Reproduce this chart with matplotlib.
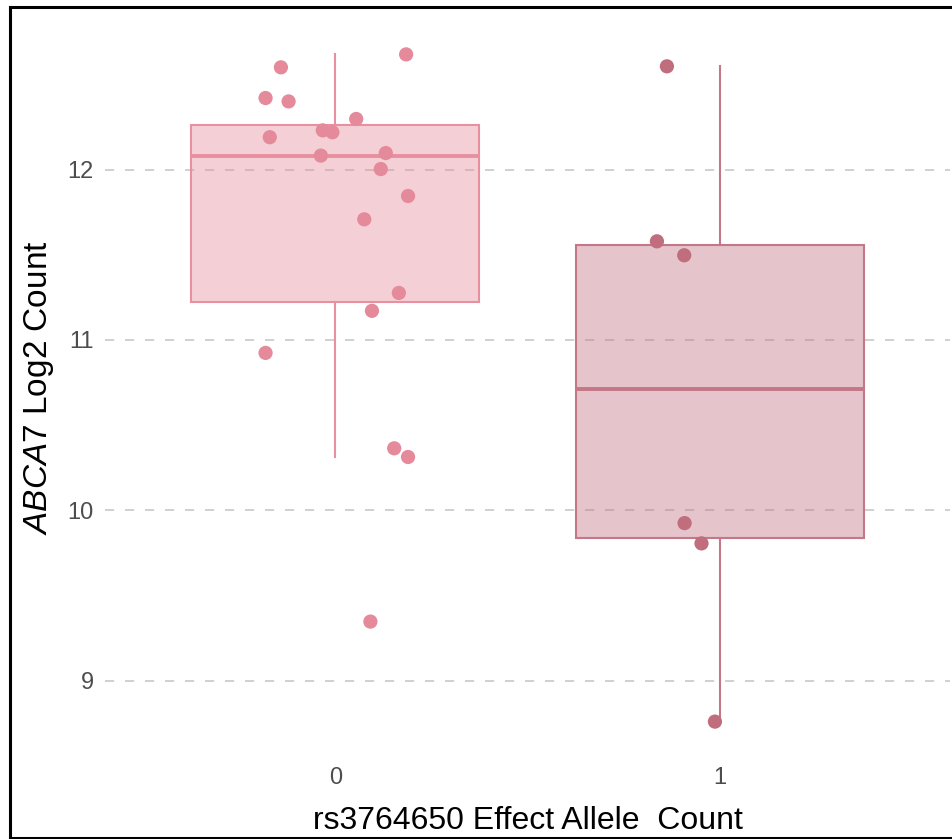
import matplotlib
matplotlib.use("Agg")
import matplotlib.pyplot as plt
from matplotlib.lines import Line2D
import numpy as np

plt.rcParams['font.family'] = ['Liberation Sans', 'DejaVu Sans']
plt.rcParams['mathtext.fontset'] = 'custom'
plt.rcParams['mathtext.it'] = 'Liberation Sans:italic'
plt.rcParams['mathtext.rm'] = 'Liberation Sans'

# Genotype groups (effect allele count)
categories = ["0", "1"]

# ABCA7 log2 counts per sample, by group
values_0 = [12.60, 12.676, 12.42, 12.40, 12.297, 12.23, 12.219, 12.19, 12.082,
            12.097, 12.003, 11.845, 11.708, 11.276, 11.171, 10.924, 10.364,
            10.313, 9.347]
values_1 = [12.606, 11.579, 11.497, 9.925, 9.806, 8.760]

# horizontal jitter of each sample within its group
jitter_0 = [-0.142, 0.184, -0.182, -0.122, 0.054, -0.033, -0.008, -0.171, -0.038,
            0.131, 0.118, 0.189, 0.075, 0.165, 0.095, -0.182, 0.153, 0.189, 0.091]
jitter_1 = [-0.137, -0.163, -0.092, -0.091, -0.047, -0.012]

yticks = [9, 10, 11, 12]

point_colors = ["#E48A9A", "#C06D7E"]
edge_colors = ["#E8909F", "#C47786"]

W, H = 952, 839
fig = plt.figure(figsize=(W / 100, H / 100), dpi=100)

# panel placement (pixels)
px_left, px_right, px_top, px_bottom = 105, 950, 21, 755
ax = fig.add_axes([px_left / W, (H - px_bottom) / H,
                   (px_right - px_left) / W, (px_bottom - px_top) / H])

groups = [values_0, values_1]
jitters = [jitter_0, jitter_1]

for i, (vals, jit) in enumerate(zip(groups, jitters)):
    bp = ax.boxplot([vals], positions=[i], widths=0.75, whis=1.5,
                    showfliers=False, patch_artist=True, showcaps=False,
                    zorder=2)
    for b in bp['boxes']:
        b.set_facecolor(matplotlib.colors.to_rgba(point_colors[i], 0.4))
        b.set_edgecolor(edge_colors[i])
        b.set_linewidth(1.5)
    for w in bp['whiskers']:
        w.set_color(edge_colors[i])
        w.set_linewidth(1.5)
    for m in bp['medians']:
        m.set_color(edge_colors[i])
        m.set_linewidth(2.8)
    ax.scatter(np.array(jit) + i, vals, s=105, color=point_colors[i],
               edgecolors='none', zorder=4)

ax.set_xlim(-0.6, 1.6)
ax.set_ylim(8.564, 12.872)
ax.set_xticks([0, 1])
ax.set_xticklabels(categories)
ax.set_yticks(yticks)
ax.set_yticklabels([str(t) for t in yticks])

for y in yticks:
    ax.axhline(y, color="#C8C8C8", lw=1.2, ls=(0, (5.5, 6.5)), zorder=1)

for s in ax.spines.values():
    s.set_visible(False)
ax.tick_params(axis='both', length=0, labelsize=17, labelcolor="#4D4D4D")
ax.tick_params(axis='y', pad=8)
ax.tick_params(axis='x', pad=9)

ax.set_xlabel("rs3764650 Effect Allele  Count", fontsize=23, color="black",
              labelpad=12)
ax.set_ylabel(r"$\it{ABCA7}$ Log2 Count", fontsize=24, color="black")
ax.yaxis.set_label_coords(-0.058, 0.5)

# outer frame: top, left and bottom edges
def fig_line(x0, y0, x1, y1):
    fig.add_artist(Line2D([x0 / W, x1 / W], [1 - y0 / H, 1 - y1 / H],
                          transform=fig.transFigure, color="black", lw=2.2,
                          solid_capstyle='projecting'))

fig_line(9.5, 7, 960, 7)
fig_line(9.5, 7, 9.5, 837.5)
fig_line(9.5, 837.5, 960, 837.5)

fig.savefig("out.png", dpi=100)
